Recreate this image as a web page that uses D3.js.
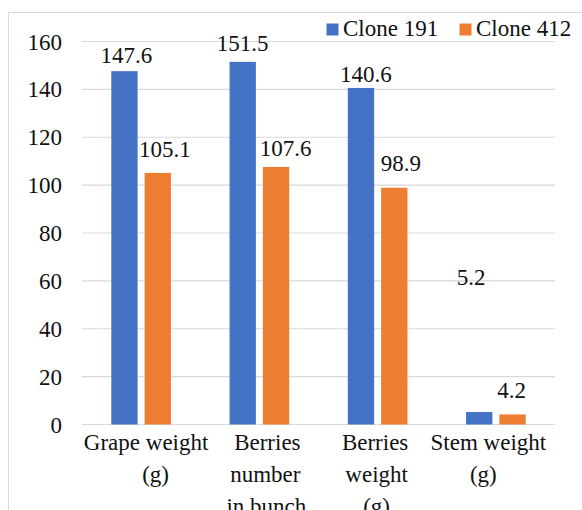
<!DOCTYPE html>
<html>
<head>
<meta charset="utf-8">
<script src="https://cdn.jsdelivr.net/npm/d3@7"></script>
<style>
  html, body { margin: 0; padding: 0; background: #fff; }
  svg { display: block; }
</style>
</head>
<body>
<svg id="chart" width="582" height="510"></svg>
<script>
// Category labels, one array of lines per category
const categories = ["Grape weight (g)", "Berries number in bunch", "Berries weight (g)", "Stem weight (g)"];
const categoryLines = [["Grape weight", "(g)"], ["Berries", "number", "in bunch"], ["Berries", "weight", "(g)"], ["Stem weight", "(g)"]];
const seriesNames = ["Clone 191", "Clone 412"];
const clone191 = [147.6, 151.5, 140.6, 5.2];
const clone412 = [105.1, 107.6, 98.9, 4.2];
const yTicks = [0, 20, 40, 60, 80, 100, 120, 140, 160];

const colors = { "Clone 191": "#4472C4", "Clone 412": "#ED7D31" };
const seriesValues = { "Clone 191": clone191, "Clone 412": clone412 };

// Hand-placed value label nudges [dx, dy] (dy measured from the bar top)
const labelNudge = {
  "Clone 191": [[2, -8], [0, -11], [5, -5.5], [-8, -127]],
  "Clone 412": [[7, -16], [9.5, -10.5], [6.5, -17], [-1, -16.5]]
};
// Horizontal nudges for the wrapped category label lines
const lineNudge = [[5, 14.5], [8, 6, 7], [-2.5, -1, -1], [-7.5, -12.5]];

const FONT = "'Liberation Serif', 'Times New Roman', Times, serif";
const font = 23;
const ink = "#111";

const svg = d3.select("#chart");

function styleText(sel) {
  return sel.style("font-family", FONT).style("font-size", font + "px").style("fill", ink);
}

// Chart frame
svg.append("rect")
  .attr("x", 8.5).attr("y", 12.5)
  .attr("width", 600).attr("height", 600)
  .attr("fill", "none").attr("stroke", "#d9d9d9").attr("stroke-width", 1);

const x0 = d3.scaleBand().domain(categories).range([82, 555]).paddingInner(0).paddingOuter(0);
const x1 = d3.scaleBand().domain(seriesNames).range([0, x0.bandwidth()]).paddingInner(0.21).paddingOuter(0.88);
const y = d3.scaleLinear().domain([0, 160]).range([424.5, 41.5]);

// Gridlines
svg.append("g").selectAll("line").data(yTicks).join("line")
  .attr("x1", 82).attr("x2", 555)
  .attr("y1", d => y(d)).attr("y2", d => y(d))
  .attr("stroke", "#d9d9d9").attr("stroke-width", 1.2);

// Y axis labels
const yAxis = d3.axisLeft(y).tickValues(yTicks).tickSize(0).tickPadding(0).tickFormat(d3.format("d"));
const gy = svg.append("g").attr("transform", "translate(62,0)").call(yAxis);
gy.select(".domain").remove();
gy.attr("font-family", null).attr("font-size", null);
styleText(gy.selectAll("text")).attr("dy", "0.33em");

// Bars
const rows = [];
seriesNames.forEach(s => {
  seriesValues[s].forEach((v, i) => rows.push({ s, i, v, cat: categories[i] }));
});

svg.append("g").selectAll("rect").data(rows).join("rect")
  .attr("x", d => x0(d.cat) + x1(d.s))
  .attr("width", x1.bandwidth())
  .attr("y", d => y(d.v))
  .attr("height", d => y(0) - y(d.v))
  .attr("fill", d => colors[d.s]);

// Value labels
styleText(svg.append("g").selectAll("text").data(rows).join("text"))
  .attr("x", d => x0(d.cat) + x1(d.s) + x1.bandwidth() / 2 + labelNudge[d.s][d.i][0])
  .attr("y", d => y(d.v) + labelNudge[d.s][d.i][1])
  .attr("text-anchor", "middle")
  .text(d => d.v.toFixed(1));

// Category labels
const gx = svg.append("g");
categories.forEach((c, i) => {
  const cx = x0(c) + x0.bandwidth() / 2;
  categoryLines[i].forEach((line, j) => {
    styleText(gx.append("text"))
      .attr("x", cx + lineNudge[i][j])
      .attr("y", 449.5 + j * 32)
      .attr("text-anchor", "middle")
      .text(line);
  });
});

// Legend
const legendX = [326.5, 459.5];
const legend = svg.append("g");
seriesNames.forEach((s, i) => {
  legend.append("rect")
    .attr("x", legendX[i]).attr("y", 23.5)
    .attr("width", 12).attr("height", 12)
    .attr("fill", colors[s]);
  styleText(legend.append("text"))
    .attr("x", legendX[i] + 16.5).attr("y", 36)
    .text(s);
});
</script>
</body>
</html>
